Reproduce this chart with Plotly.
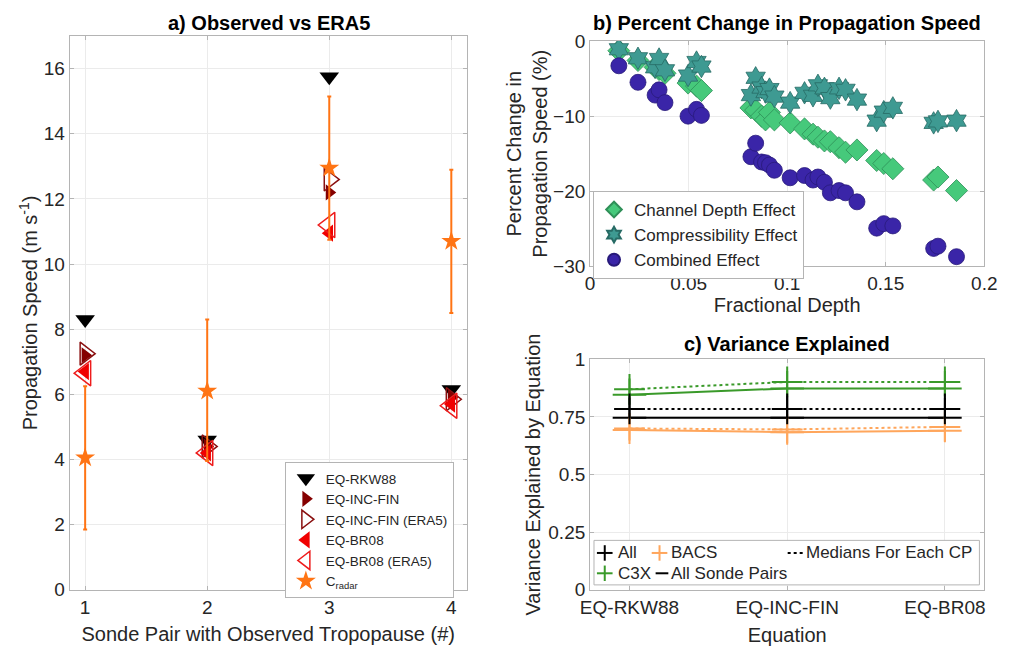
import plotly.graph_objects as go

# ---------------- Panel a: Observed vs ERA5 ----------------
pairs = [1, 2, 3, 4]
rkw88 = [8.3, 4.6, 15.75, 6.15]
inc_fin = [7.2, 4.4, 12.2, 5.9]
inc_fin_era5 = [7.25, 4.4, 12.6, 5.85]
br08 = [6.7, 4.2, 10.95, 5.7]
br08_era5 = [6.65, 4.2, 11.2, 5.65]
c_radar = [4.05, 6.1, 12.95, 10.7]
c_radar_low = [1.85, 3.95, 10.75, 8.5]
c_radar_high = [6.25, 8.3, 15.15, 12.9]

# ---------------- Panel b: Percent change ----------------
frac_depth = [0.0146, 0.0243, 0.0330, 0.0350, 0.0380, 0.0497, 0.0540, 0.0565,
              0.0816, 0.0840, 0.0870, 0.0890, 0.0910, 0.0935, 0.1015, 0.1088,
              0.1131, 0.1156, 0.1189, 0.1219, 0.1263, 0.1296, 0.1354, 0.1454,
              0.1490, 0.1536, 0.1743, 0.1765, 0.1859]
channel_depth = [-1.3, -2.6, -3.5, -3.8, -4.3, -5.6, -6.0, -6.6, -8.9, -9.2,
                 -10.0, -10.5, -9.5, -10.5, -10.9, -11.7, -12.4, -12.8, -13.3,
                 -13.4, -14.2, -14.8, -14.5, -15.9, -16.3, -17.0, -18.5, -18.1,
                 -19.9]
compressibility = [-1.1, -2.3, -3.5, -2.4, -3.9, -4.6, -2.8, -3.4, -7.2, -4.9,
                   -6.2, -6.8, -6.4, -7.4, -8.2, -6.9, -7.3, -5.9, -6.3, -7.6,
                   -6.3, -6.5, -7.8, -10.6, -9.4, -8.9, -10.9, -10.7, -10.6]
combined = [-3.3, -5.5, -7.2, -6.5, -8.2, -10.0, -9.1, -9.9, -15.4, -13.6,
            -16.1, -16.2, -16.5, -17.2, -18.2, -17.9, -18.5, -18.1, -18.8,
            -20.2, -19.9, -20.2, -21.4, -24.9, -24.3, -24.6, -27.6, -27.3,
            -28.7]

# ---------------- Panel c: Variance explained ----------------
equations = ['EQ-RKW88', 'EQ-INC-FIN', 'EQ-BR08']
eq_pos = [1, 2, 3]
all_median = [0.785, 0.785, 0.785]
all_low = [0.745, 0.745, 0.745]
all_high = [0.835, 0.84, 0.835]
bacs_median = [0.700, 0.696, 0.707]
bacs_low = [0.648, 0.636, 0.643]
bacs_high = [0.745, 0.745, 0.750]
c3x_median = [0.870, 0.902, 0.902]
c3x_low = [0.835, 0.840, 0.840]
c3x_high = [0.917, 0.950, 0.950]
all_pairs = [0.747, 0.747, 0.747]
bacs_pairs = [0.694, 0.684, 0.690]
c3x_pairs = [0.847, 0.874, 0.874]

FONT = 'Liberation Sans, Arial, Helvetica, sans-serif'
W, H = 1011, 653
GRID = '#ebebeb'
FRAME = '#b4b4b4'
TXT = '#262626'
ORANGE = '#ff7414'
GREEN = '#3a9a2a'
LORANGE = '#ffa65c'


def px(x):
    return x / W


def py(y):
    return 1 - y / H


fig = go.Figure()

# ---- Panel a traces ----
fig.add_trace(go.Scatter(x=pairs, y=rkw88, mode='markers', name='EQ-RKW88',
                         marker=dict(symbol='triangle-down', size=17, color='black'),
                         xaxis='x', yaxis='y', legend='legend'))
fig.add_trace(go.Scatter(x=pairs, y=inc_fin, mode='markers', name='EQ-INC-FIN',
                         marker=dict(symbol='triangle-right', size=14, color='#850000'),
                         xaxis='x', yaxis='y', legend='legend'))
fig.add_trace(go.Scatter(x=pairs, y=inc_fin_era5, mode='markers', name='EQ-INC-FIN (ERA5)',
                         marker=dict(symbol='triangle-right-open', size=20, color='#8a1010',
                                     line=dict(width=1.5, color='#8a1010')),
                         xaxis='x', yaxis='y', legend='legend'))
fig.add_trace(go.Scatter(x=pairs, y=br08, mode='markers', name='EQ-BR08',
                         marker=dict(symbol='triangle-left', size=15, color='#f00000'),
                         xaxis='x', yaxis='y', legend='legend'))
fig.add_trace(go.Scatter(x=pairs, y=br08_era5, mode='markers', name='EQ-BR08 (ERA5)',
                         marker=dict(symbol='triangle-left-open', size=22, color='#ee1c1c',
                                     line=dict(width=1.5, color='#ee1c1c')),
                         xaxis='x', yaxis='y', legend='legend'))
fig.add_trace(go.Scatter(x=pairs, y=c_radar, mode='markers', name='C<sub>radar</sub>',
                         marker=dict(symbol='star', size=15, color=ORANGE),
                         error_y=dict(type='data', symmetric=False,
                                      array=[h - v for h, v in zip(c_radar_high, c_radar)],
                                      arrayminus=[v - l for v, l in zip(c_radar, c_radar_low)],
                                      color=ORANGE, thickness=2, width=2),
                         xaxis='x', yaxis='y', legend='legend'))

# ---- Panel b traces ----
fig.add_trace(go.Scatter(x=frac_depth, y=channel_depth, mode='markers', name='Channel Depth Effect',
                         marker=dict(symbol='diamond', size=17, color='#46c97b',
                                     line=dict(width=0.8, color='#2f8f58')),
                         xaxis='x2', yaxis='y2', legend='legend2'))
fig.add_trace(go.Scatter(x=frac_depth, y=compressibility, mode='markers', name='Compressibility Effect',
                         marker=dict(symbol='hexagram', size=17, color='#3e9a92',
                                     line=dict(width=0.8, color='#276b65')),
                         xaxis='x2', yaxis='y2', legend='legend2'))
fig.add_trace(go.Scatter(x=frac_depth, y=combined, mode='markers', name='Combined Effect',
                         marker=dict(symbol='circle', size=16, color='#3a25a8',
                                     line=dict(width=0.8, color='#281a7a')),
                         xaxis='x2', yaxis='y2', legend='legend2'))

# ---- Panel c traces ----
def line_trace(yv, color, dash, ew=True):
    return go.Scatter(x=eq_pos, y=yv, mode='lines+markers' if ew else 'lines', showlegend=False,
                      line=dict(color=color, width=2, dash=dash),
                      marker=dict(symbol='line-ew-open', size=24, line=dict(width=2, color=color)),
                      xaxis='x3', yaxis='y3')


fig.add_trace(line_trace(c3x_pairs, GREEN, 'solid'))
fig.add_trace(line_trace(bacs_pairs, LORANGE, 'solid'))
fig.add_trace(line_trace(all_pairs, 'black', 'solid'))
fig.add_trace(line_trace(c3x_median, GREEN, 'dot', ew=False))
fig.add_trace(line_trace(bacs_median, LORANGE, 'dot', ew=False))
fig.add_trace(line_trace(all_median, 'black', 'dot', ew=False))


def cross_trace(yv, lo, hi, color, name):
    return go.Scatter(x=eq_pos, y=yv, mode='markers', name=name, showlegend=False,
                      marker=dict(symbol='cross-thin-open', size=22, color=color,
                                  line=dict(width=2, color=color)),
                      error_y=dict(type='data', symmetric=False,
                                   array=[h - v for h, v in zip(hi, yv)],
                                   arrayminus=[v - l for v, l in zip(yv, lo)],
                                   color=color, thickness=2, width=0),
                      xaxis='x3', yaxis='y3')


fig.add_trace(cross_trace(bacs_median, bacs_low, bacs_high, LORANGE, 'BACS'))
fig.add_trace(cross_trace(c3x_median, c3x_low, c3x_high, GREEN, 'C3X'))
fig.add_trace(cross_trace(all_median, all_low, all_high, 'black', 'All'))

axis_common = dict(showline=True, linecolor=FRAME, linewidth=1, mirror='ticks',
                   showgrid=True, gridcolor=GRID, gridwidth=1, zeroline=False,
                   ticks='inside', ticklen=4, tickcolor=FRAME,
                   tickfont=dict(family=FONT, size=19, color=TXT))
title_font = dict(family=FONT, size=20, color=TXT)

# ---- hand-placed legend for panel c (glyphs + text) ----
c_legend_rows = [561, 582]
shapes = [dict(type='rect', xref='paper', yref='paper',
               x0=px(598), x1=px(992), y0=py(594), y1=py(548),
               fillcolor='white', line=dict(color=FRAME, width=1), layer='above')]
annotations = []


def plus_glyph(cx, cy, color):
    return [dict(type='line', xref='paper', yref='paper', x0=px(cx - 8), x1=px(cx + 8),
                 y0=py(cy), y1=py(cy), line=dict(color=color, width=2), layer='above'),
            dict(type='line', xref='paper', yref='paper', x0=px(cx), x1=px(cx),
                 y0=py(cy - 8), y1=py(cy + 8), line=dict(color=color, width=2), layer='above')]


shapes += plus_glyph(609, c_legend_rows[0], 'black')
shapes += plus_glyph(665, c_legend_rows[0], LORANGE)
shapes += plus_glyph(609, c_legend_rows[1], GREEN)
shapes.append(dict(type='line', xref='paper', yref='paper', x0=px(661), x1=px(674),
                   y0=py(c_legend_rows[1]), y1=py(c_legend_rows[1]),
                   line=dict(color='black', width=2), layer='above'))
shapes.append(dict(type='line', xref='paper', yref='paper', x0=px(796), x1=px(812),
                   y0=py(c_legend_rows[0]), y1=py(c_legend_rows[0]),
                   line=dict(color='black', width=2, dash='dot'), layer='above'))
for text, x, row in [('All', 620, 0), ('BACS', 675, 0), ('Medians For Each CP', 813, 0),
                     ('C3X', 620, 1), ('All Sonde Pairs', 675, 1)]:
    annotations.append(dict(text=text, x=px(x), y=py(c_legend_rows[row]), xref='paper',
                            yref='paper', xanchor='left', yanchor='middle', showarrow=False,
                            font=dict(family=FONT, size=17, color=TXT)))

annotations += [
    dict(text='<b>a) Observed vs ERA5</b>', x=px(266), y=py(13), xref='paper', yref='paper',
         xanchor='center', yanchor='middle', showarrow=False,
         font=dict(family=FONT, size=20, color='black')),
    dict(text='<b>b) Percent Change in Propagation Speed</b>', x=px(795), y=py(13),
         xref='paper', yref='paper', xanchor='center', yanchor='middle', showarrow=False,
         font=dict(family=FONT, size=20, color='black')),
    dict(text='<b>c) Variance Explained</b>', x=px(795), y=py(345), xref='paper', yref='paper',
         xanchor='center', yanchor='middle', showarrow=False,
         font=dict(family=FONT, size=20, color='black')),
]

fig.update_layout(
    width=W, height=H, margin=dict(l=0, r=0, t=0, b=0),
    paper_bgcolor='white', plot_bgcolor='white',
    font=dict(family=FONT, color=TXT),
    xaxis=dict(axis_common, domain=[px(62), px(468)], range=[0.873, 4.127],
               tickvals=pairs, anchor='y',
               title=dict(text='Sonde Pair with Observed Tropopause (#)', font=title_font, standoff=10)),
    yaxis=dict(axis_common, domain=[py(599), py(27)], range=[0, 17],
               tickvals=[0, 2, 4, 6, 8, 10, 12, 14, 16], anchor='x',
               title=dict(text='Propagation Speed (m s<sup>-1</sup>)', font=title_font, standoff=0)),
    xaxis2=dict(axis_common, domain=[px(594), px(997)], range=[0, 0.2],
                tickvals=[0, 0.05, 0.1, 0.15, 0.2], ticktext=['0', '0.05', '0.1', '0.15', '0.2'],
                anchor='y2',
                title=dict(text='Fractional Depth', font=title_font, standoff=4)),
    yaxis2=dict(axis_common, domain=[py(265), py(32)], range=[-30, 0],
                tickvals=[-30, -20, -10, 0], anchor='x2',
                title=dict(text='Percent Change in<br>Propagation Speed (%)', font=title_font, standoff=0)),
    xaxis3=dict(axis_common, domain=[px(594), px(997)], range=[0.75, 3.25],
                tickvals=eq_pos, ticktext=equations, anchor='y3',
                title=dict(text='Equation', font=title_font, standoff=11)),
    yaxis3=dict(axis_common, domain=[py(599), py(361)], range=[0, 1],
                tickvals=[0, 0.25, 0.5, 0.75, 1], ticktext=['0', '0.25', '0.5', '0.75', '1'],
                anchor='x3',
                title=dict(text='Variance Explained by Equation', font=title_font, standoff=2)),
    legend=dict(x=px(282), y=py(467), xanchor='left', yanchor='top',
                bgcolor='white', bordercolor=FRAME, borderwidth=1,
                font=dict(family=FONT, size=13.5, color=TXT), tracegroupgap=0),
    legend2=dict(x=px(597), y=py(187), xanchor='left', yanchor='top',
                 bgcolor='white', bordercolor=FRAME, borderwidth=1,
                 font=dict(family=FONT, size=17, color=TXT), tracegroupgap=0,
                 itemsizing='constant'),
    shapes=shapes,
    annotations=annotations,
)

fig.write_html('out.html')
